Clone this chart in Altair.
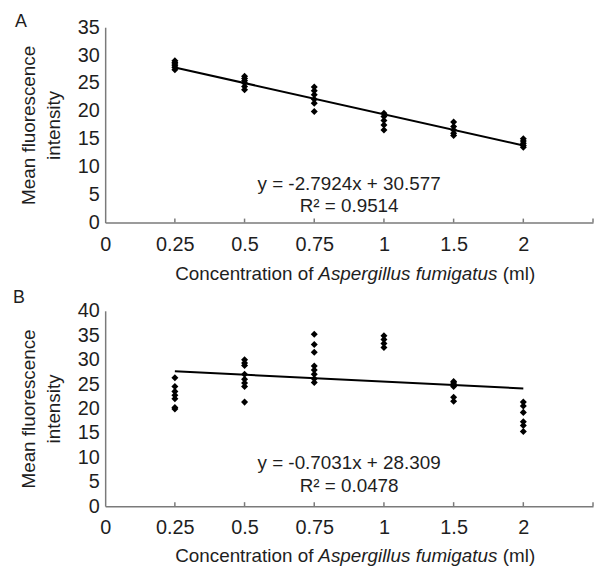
import json
import altair as alt
import pandas as pd

FONT = "Liberation Sans"
TEXT_COLOR = "#1e1e1e"
AXIS_COLOR = "#7a7a7a"
FS = 19
LFS = 20
W, H = 492, 197

# category positions on the x axis (index) and their labels
x_labels = ["0", "0.25", "0.5", "0.75", "1", "1.5", "2", ""]
conc_index = [1, 2, 3, 4, 5, 6]

# Panel A: observed mean fluorescence intensity per concentration
a_025 = [27.4, 27.8, 28.1, 28.4, 28.7, 29.0]
a_050 = [23.8, 24.4, 25.0, 25.4, 25.8, 26.2]
a_075 = [19.9, 21.4, 22.1, 22.9, 23.6, 24.3]
a_100 = [16.6, 17.5, 18.3, 19.0, 19.6]
a_150 = [15.6, 16.0, 16.6, 17.2, 18.0]
a_200 = [13.5, 13.8, 14.2, 14.6, 15.0]
a_fit = [-2.7924, 30.577]
a_eq = ["y = -2.7924x + 30.577", "R² = 0.9514"]

# Panel B
b_025 = [19.9, 20.2, 22.0, 22.7, 23.5, 24.5, 26.3]
b_050 = [21.3, 24.5, 25.2, 26.0, 27.0, 28.8, 29.3, 30.0]
b_075 = [25.3, 26.1, 27.0, 27.9, 28.7, 31.5, 33.1, 35.2]
b_100 = [32.5, 33.3, 34.1, 34.9]
b_150 = [21.5, 22.3, 24.5, 24.8, 25.2, 25.5]
b_200 = [15.3, 16.5, 17.3, 19.2, 20.5, 21.3]
b_fit = [-0.7031, 28.309]
b_eq = ["y = -0.7031x + 28.309", "R² = 0.0478"]

title_parts = ["Concentration of", "Aspergillus fumigatus", "(ml)"]
y_title = ["Mean fluorescence", "intensity"]

label_expr = json.dumps(x_labels) + "[datum.value]"


def panel(groups, fit, eq, ymax, letter, letter_dx, letter_dy, eq_dy, title_dy):
    rows = [(i, v) for i, vs in zip(conc_index, groups) for v in vs]
    pts_df = pd.DataFrame(rows, columns=["x", "y"])

    x_enc = alt.X(
        "x:Q",
        scale=alt.Scale(domain=[0, 7], nice=False, zero=False),
        axis=alt.Axis(
            values=list(range(8)), labelExpr=label_expr, title=None, grid=False,
            ticks=False, tickSize=0, labelPadding=12, labelFontSize=LFS,
            labelFont=FONT, labelColor=TEXT_COLOR, labelFlush=False,
            labelOverlap=False, domainColor=AXIS_COLOR, domainWidth=1.5,
        ),
    )
    y_enc = alt.Y(
        "y:Q",
        scale=alt.Scale(domain=[0, ymax], nice=False),
        axis=alt.Axis(
            values=list(range(0, ymax + 1, 5)), title=y_title, grid=False,
            ticks=False, tickSize=0, labelPadding=6, labelFontSize=LFS,
            labelFont=FONT, labelColor=TEXT_COLOR, labelOverlap=False,
            labelFlush=False,
            titleFont=FONT, titleFontSize=FS, titleFontWeight="normal",
            titleColor=TEXT_COLOR, titleLineHeight=25, titlePadding=14,
            domainColor=AXIS_COLOR, domainWidth=1.5,
        ),
    )

    pts = alt.Chart(pts_df).mark_point(
        shape="diamond", filled=True, color="black", size=50, opacity=1
    ).encode(x=x_enc, y=y_enc)

    line_df = pd.DataFrame({
        "x": [conc_index[0], conc_index[-1]],
        "y": [fit[0] * conc_index[0] + fit[1], fit[0] * conc_index[-1] + fit[1]],
    })
    line = alt.Chart(line_df).mark_line(color="black", strokeWidth=2).encode(x=x_enc, y=y_enc)

    tick_df = pd.DataFrame({"x": list(range(1, 8))})
    ticks = alt.Chart(tick_df).mark_rule(color=AXIS_COLOR, strokeWidth=1.5).encode(
        x=x_enc, y=alt.value(H), y2=alt.value(H - 4)
    )

    eq1 = alt.Chart(pd.DataFrame({"t": [eq[0]]})).mark_text(
        font=FONT, fontSize=FS, color=TEXT_COLOR, align="center", baseline="middle"
    ).encode(text="t:N", x=alt.value(W / 2), y=alt.value(H - eq_dy[0]))
    eq2 = alt.Chart(pd.DataFrame({"t": [eq[1]]})).mark_text(
        font=FONT, fontSize=FS, color=TEXT_COLOR, align="center", baseline="middle"
    ).encode(text="t:N", x=alt.value(W / 2), y=alt.value(H - eq_dy[1]))

    t1 = alt.Chart(pd.DataFrame({"t": [title_parts[0]]})).mark_text(
        font=FONT, fontSize=FS, color=TEXT_COLOR, align="right", baseline="alphabetic"
    ).encode(text="t:N", x=alt.value(210), y=alt.value(H + title_dy))
    t2 = alt.Chart(pd.DataFrame({"t": [title_parts[1]]})).mark_text(
        font=FONT, fontSize=FS, fontStyle="italic", color=TEXT_COLOR, align="left",
        baseline="alphabetic"
    ).encode(text="t:N", x=alt.value(215), y=alt.value(H + title_dy))
    t3 = alt.Chart(pd.DataFrame({"t": [title_parts[2]]})).mark_text(
        font=FONT, fontSize=FS, color=TEXT_COLOR, align="left", baseline="alphabetic"
    ).encode(text="t:N", x=alt.value(401), y=alt.value(H + title_dy))

    lab = alt.Chart(pd.DataFrame({"t": [letter]})).mark_text(
        font=FONT, fontSize=18, color=TEXT_COLOR, align="left", baseline="alphabetic"
    ).encode(text="t:N", x=alt.value(letter_dx), y=alt.value(letter_dy))

    return alt.layer(pts, line, ticks, eq1, eq2, t1, t2, t3, lab).properties(width=W, height=H)


pa = panel([a_025, a_050, a_075, a_100, a_150, a_200], a_fit, a_eq, 35, "A", -91, 0, (39, 17), 58)
pb = panel([b_025, b_050, b_075, b_100, b_150, b_200], b_fit, b_eq, 40, "B", -93, -8, (43, 20), 56)

chart = alt.vconcat(pa, pb, spacing=89, bounds="flush").properties(
    padding={"left": 5, "top": 3, "right": 0, "bottom": 0}
).configure_view(stroke=None)

chart.save("out.html", embed_options={"renderer": "svg", "actions": False})
